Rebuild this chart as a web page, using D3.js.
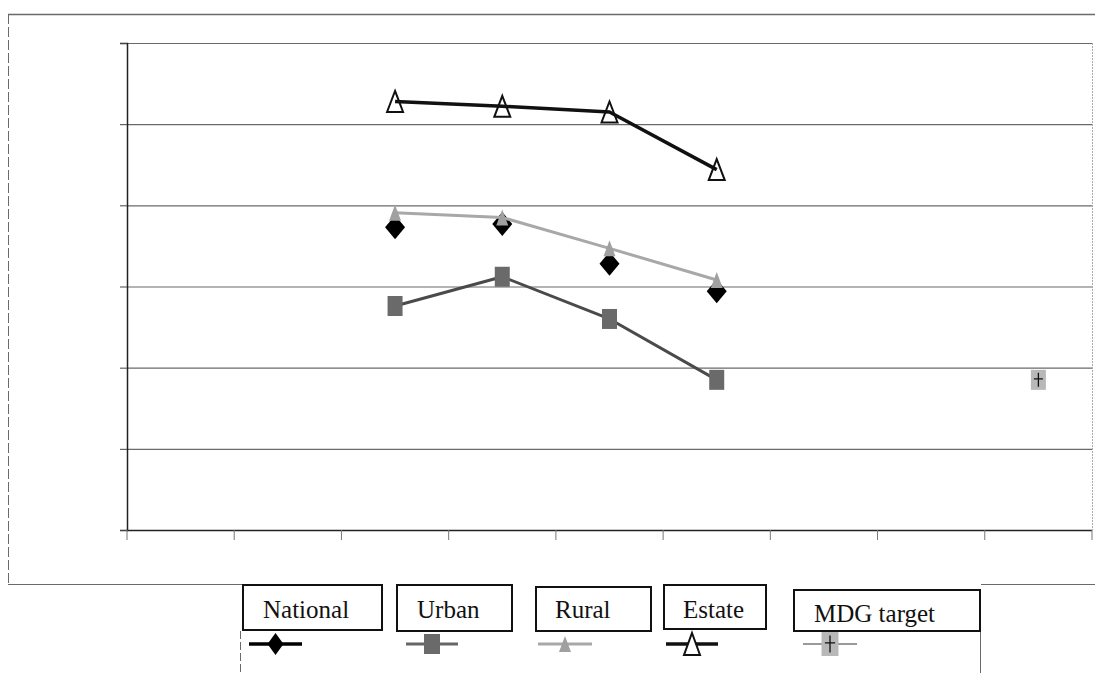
<!DOCTYPE html>
<html>
<head>
<meta charset="utf-8">
<script src="https://cdn.jsdelivr.net/npm/d3@7"></script>
<style>
  html, body { margin: 0; padding: 0; background: #fff; }
  svg { display: block; }
</style>
</head>
<body>
<svg id="chart" width="1095" height="673"></svg>
<script>
// ---- data ----
const categories = ["c1", "c2", "c3", "c4", "c5", "c6", "c7", "c8", "c9"];
const yTicks = [0, 10, 20, 30, 40, 50, 60];
const seriesNames = ["National", "Urban", "Rural", "Estate", "MDG target"];
const national = [null, null, 37.3, 37.7, 32.8, 29.4, null, null, null];
const urban    = [null, null, 27.6, 31.2, 26.0, 18.5, null, null, null];
const rural    = [null, null, 39.1, 38.5, 34.7, 30.8, null, null, null];
const estate   = [null, null, 52.8, 52.2, 51.5, 44.4, null, null, null];
const mdgTarget = [null, null, null, null, null, null, null, null, 18.5];

// ---- layout ----
const svg = d3.select("#chart");
const plot = { left: 127, right: 1092, top: 43, bottom: 530 };

const x = d3.scaleBand().domain(categories).range([plot.left, plot.right]).padding(0);
const y = d3.scaleLinear().domain([0, 60]).range([plot.bottom, plot.top]);
const cx = (i) => x(categories[i]) + x.bandwidth() / 2;

// marker shapes (relative to a centre point)
const shapes = {
  diamond: (w, h) => `M0,${-h/2}L${w/2},0L0,${h/2}L${-w/2},0Z`,
  square:  (w, h) => `M${-w/2},${-h/2}H${w/2}V${h/2}H${-w/2}Z`,
  triangle:(w, h) => `M0,${-h/2}L${w/2},${h/2}H${-w/2}Z`
};

const styles = [
  { values: national,  line: null,   lineW: 0,   marker: "diamond",  mw: 20, mh: 24, fill: "#000",    stroke: "none", sw: 0,
    legendLine: "#000", legendW: 3.5, lmw: 16, lmh: 22 },
  { values: urban,     line: "#4a4a4a", lineW: 3, marker: "square", mw: 15, mh: 20, fill: "#6a6a6a", stroke: "none", sw: 0,
    legendLine: "#666", legendW: 3, lmw: 16, lmh: 20 },
  { values: rural,     line: "#a8a8a8", lineW: 3, marker: "triangle", mw: 12, mh: 16, fill: "#a0a0a0", stroke: "none", sw: 0,
    legendLine: "#a8a8a8", legendW: 3, lmw: 12, lmh: 16 },
  { values: estate,    line: "#111",  lineW: 3.5, marker: "triangle", mw: 16, mh: 21, fill: "none", stroke: "#111", sw: 2,
    legendLine: "#111", legendW: 3.5, lmw: 16, lmh: 22 },
  { values: mdgTarget, line: null,    lineW: 0,  marker: "square",   mw: 15, mh: 20, fill: "#b8b8b8", stroke: "none", sw: 0, plus: true,
    legendLine: "#777", legendW: 1.5, lmw: 17, lmh: 24 }
];

// ---- outer frame ----
const frame = svg.append("g").attr("stroke", "#6a6a6a").attr("fill", "none");
frame.append("line").attr("x1", 8).attr("x2", 1095).attr("y1", 14.5).attr("y2", 14.5).attr("stroke-width", 1.5);
frame.append("line").attr("x1", 8.5).attr("x2", 8.5).attr("y1", 14).attr("y2", 584).attr("stroke-dasharray", "10,3");
frame.append("line").attr("x1", 8).attr("x2", 242).attr("y1", 584.5).attr("y2", 584.5);
frame.append("line").attr("x1", 981).attr("x2", 1095).attr("y1", 584.5).attr("y2", 584.5);
frame.append("line").attr("x1", 240.5).attr("x2", 240.5).attr("y1", 631).attr("y2", 673).attr("stroke-dasharray", "8,3");
frame.append("line").attr("x1", 980.5).attr("x2", 980.5).attr("y1", 632).attr("y2", 673);

// ---- gridlines ----
svg.append("g")
  .attr("transform", `translate(${plot.left},0)`)
  .call(d3.axisLeft(y).tickValues(yTicks.slice(1)).tickSize(-(plot.right - plot.left)).tickFormat(""))
  .call(g => g.select(".domain").remove())
  .call(g => g.selectAll(".tick line").attr("stroke", "#6a6a6a").attr("stroke-width", 1.2));

// right border of plot area
svg.append("line")
  .attr("x1", plot.right + 0.5).attr("x2", plot.right + 0.5)
  .attr("y1", plot.top).attr("y2", plot.bottom)
  .attr("stroke", "#aaa").attr("stroke-dasharray", "2,1");

// ---- y axis (tick marks, no labels) ----
svg.append("g")
  .attr("transform", `translate(${plot.left},0)`)
  .call(d3.axisLeft(y).tickValues(yTicks).tickSize(7).tickFormat(""))
  .call(g => g.select(".domain").attr("stroke", "#222").attr("stroke-width", 1.5))
  .call(g => g.selectAll(".tick line").attr("stroke", "#444"));

// ---- x axis: ticks at category boundaries ----
const bounds = categories.map(c => x(c)).concat([plot.right]);
const xAxis = svg.append("g");
xAxis.append("line")
  .attr("x1", plot.left).attr("x2", plot.right)
  .attr("y1", plot.bottom + 0.5).attr("y2", plot.bottom + 0.5)
  .attr("stroke", "#222").attr("stroke-width", 1.5);
xAxis.selectAll("line.tick").data(bounds).join("line")
  .attr("class", "tick")
  .attr("x1", d => d).attr("x2", d => d)
  .attr("y1", plot.bottom).attr("y2", plot.bottom + 10)
  .attr("stroke", "#777");

// ---- series ----
const lineGen = d3.line()
  .defined(d => d.v != null)
  .x(d => cx(d.i))
  .y(d => y(d.v));

function drawMarker(g, s, px, py, w, h, fill) {
  g.append("path")
    .attr("d", shapes[s.marker](w, h))
    .attr("transform", `translate(${px},${py})`)
    .attr("fill", fill)
    .attr("stroke", s.stroke).attr("stroke-width", s.sw);
  if (s.plus) {
    g.append("path")
      .attr("d", `M${px},${py - h * 0.35}V${py + h * 0.35}M${px - w * 0.3},${py - h * 0.05}H${px + w * 0.3}`)
      .attr("stroke", "#111").attr("stroke-width", 1.3);
  }
}

const seriesG = svg.append("g");
styles.forEach((s) => {
  const pts = s.values.map((v, i) => ({ v, i }));
  const g = seriesG.append("g");
  if (s.line) {
    g.append("path").datum(pts)
      .attr("d", lineGen)
      .attr("fill", "none")
      .attr("stroke", s.line)
      .attr("stroke-width", s.lineW)
      .attr("stroke-linejoin", "round");
  }
  pts.filter(d => d.v != null).forEach(d => {
    drawMarker(g, s, cx(d.i), y(d.v), s.mw, s.mh, s.fill);
  });
});

// ---- legend ----
const legendBoxes = [
  { x0: 242, x1: 383, y0: 584, y1: 631, tx: 263, ty: 618, sx0: 249, sx1: 302 },
  { x0: 396, x1: 513, y0: 584, y1: 632, tx: 417, ty: 618, sx0: 406, sx1: 458 },
  { x0: 535, x1: 652, y0: 586, y1: 632, tx: 555, ty: 618, sx0: 538, sx1: 592 },
  { x0: 663, x1: 767, y0: 584, y1: 630, tx: 683, ty: 618, sx0: 666, sx1: 718 },
  { x0: 793, x1: 981, y0: 589, y1: 632, tx: 814, ty: 622, sx0: 803, sx1: 857 }
];
const legend = svg.append("g");
seriesNames.forEach((name, k) => {
  const b = legendBoxes[k];
  const s = styles[k];
  legend.append("rect")
    .attr("x", b.x0 + 1).attr("y", b.y0 + 1)
    .attr("width", b.x1 - b.x0 - 2).attr("height", b.y1 - b.y0 - 2)
    .attr("fill", "#fff").attr("stroke", "#111").attr("stroke-width", 2);
  legend.append("text")
    .attr("x", b.tx).attr("y", b.ty)
    .attr("font-family", "'Liberation Serif', 'DejaVu Serif', serif")
    .attr("font-size", 25)
    .attr("fill", "#111")
    .text(name);
  const ly = 644;
  legend.append("line")
    .attr("x1", b.sx0).attr("x2", b.sx1).attr("y1", ly).attr("y2", ly)
    .attr("stroke", s.legendLine).attr("stroke-width", s.legendW);
  drawMarker(legend, s, (b.sx0 + b.sx1) / 2, ly, s.lmw, s.lmh, s.fill === "none" ? "#fff" : s.fill);
});
</script>
</body>
</html>
